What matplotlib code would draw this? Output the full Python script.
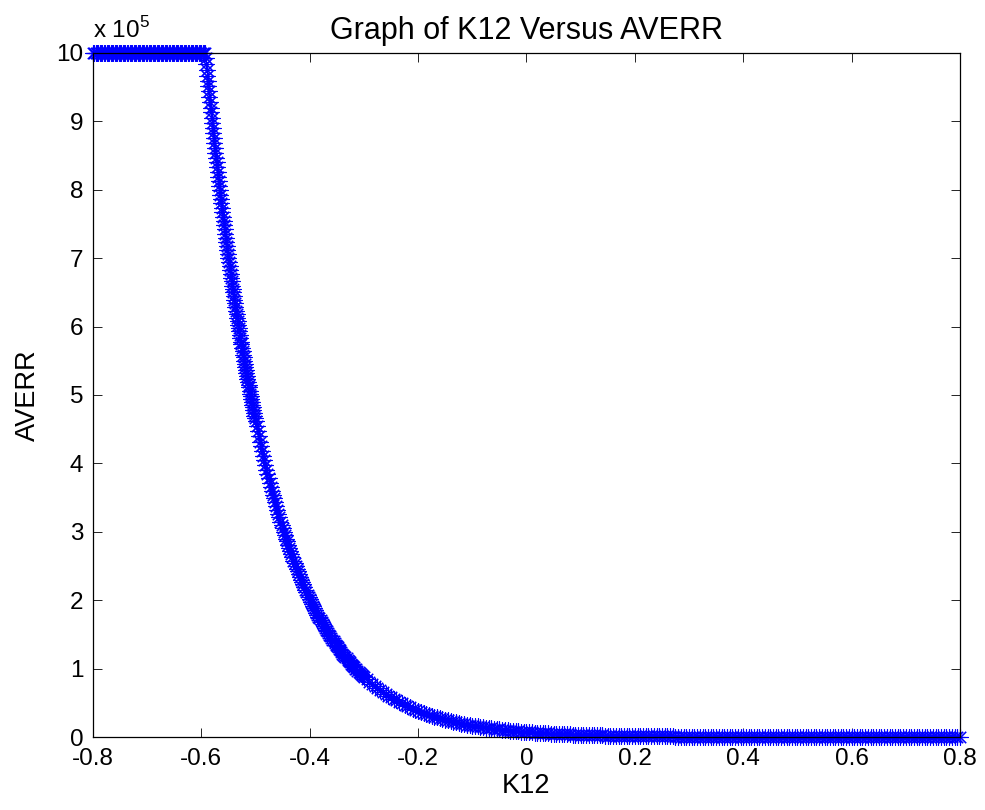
import numpy as np
import matplotlib.pyplot as plt

plt.rcParams['font.family'] = ['Liberation Sans', 'DejaVu Sans']
plt.rcParams['mathtext.fontset'] = 'custom'
plt.rcParams['mathtext.rm'] = 'Liberation Sans'

# AVERR is capped at 1e6 on the left; values below are in units of 1e5
cap_value = 10.0

# K12 = -0.593 ... -0.500 (step 0.001)
averr_steep = [10.00, 9.92, 9.84, 9.75, 9.67, 9.59, 9.51, 9.44, 9.36, 9.28,
               9.20, 9.13, 9.05, 8.98, 8.90, 8.83, 8.76, 8.68, 8.61, 8.54,
               8.47, 8.40, 8.33, 8.26, 8.19, 8.13, 8.06, 7.99, 7.93, 7.86,
               7.80, 7.73, 7.67, 7.60, 7.54, 7.48, 7.42, 7.36, 7.30, 7.24,
               7.18, 7.12, 7.06, 7.00, 6.94, 6.88, 6.83, 6.77, 6.71, 6.66,
               6.60, 6.55, 6.50, 6.44, 6.39, 6.34, 6.28, 6.23, 6.18, 6.13,
               6.08, 6.03, 5.98, 5.93, 5.88, 5.83, 5.78, 5.74, 5.69, 5.64,
               5.59, 5.55, 5.50, 5.46, 5.41, 5.37, 5.32, 5.28, 5.23, 5.19,
               5.15, 5.11, 5.06, 5.02, 4.98, 4.94, 4.90, 4.86, 4.82, 4.78,
               4.74, 4.70, 4.66, 4.62]

# K12 = -0.498 ... -0.300 (step 0.002)
averr_mid = [4.55, 4.47, 4.40, 4.32, 4.25, 4.18, 4.11, 4.05, 3.98, 3.91,
             3.85, 3.79, 3.72, 3.66, 3.60, 3.54, 3.49, 3.43, 3.37, 3.32,
             3.26, 3.21, 3.15, 3.10, 3.05, 3.00, 2.95, 2.90, 2.86, 2.81,
             2.76, 2.72, 2.67, 2.63, 2.58, 2.54, 2.50, 2.46, 2.42, 2.38,
             2.34, 2.30, 2.26, 2.23, 2.19, 2.15, 2.12, 2.08, 2.05, 2.02,
             1.98, 1.95, 1.92, 1.89, 1.85, 1.82, 1.79, 1.76, 1.74, 1.71,
             1.68, 1.65, 1.62, 1.60, 1.57, 1.55, 1.52, 1.49, 1.47, 1.45,
             1.42, 1.40, 1.38, 1.35, 1.33, 1.31, 1.29, 1.27, 1.25, 1.22,
             1.20, 1.18, 1.17, 1.15, 1.13, 1.11, 1.09, 1.07, 1.05, 1.04,
             1.02, 1.00, 0.99, 0.97, 0.95, 0.94, 0.92, 0.91, 0.89, 0.88]

# K12 = -0.295 ... 0.000 (step 0.005)
averr_low = [0.843, 0.809, 0.776, 0.744, 0.714, 0.685, 0.657, 0.631, 0.605, 0.580,
             0.557, 0.534, 0.512, 0.492, 0.472, 0.452, 0.434, 0.416, 0.399, 0.383,
             0.368, 0.353, 0.338, 0.325, 0.311, 0.299, 0.287, 0.275, 0.264, 0.253,
             0.243, 0.233, 0.223, 0.214, 0.206, 0.197, 0.189, 0.182, 0.174, 0.167,
             0.160, 0.154, 0.148, 0.142, 0.136, 0.130, 0.125, 0.120, 0.115, 0.110,
             0.106, 0.102, 0.097, 0.093, 0.090, 0.086, 0.083, 0.079, 0.076, 0.073]

# K12 = 0.005 ... 0.800 (step 0.005)
averr_tail = [0.070, 0.067, 0.064, 0.062, 0.059, 0.057, 0.055, 0.052, 0.050, 0.048,
              0.046, 0.044, 0.043, 0.041, 0.039, 0.038, 0.036, 0.035, 0.033, 0.032,
              0.031, 0.029, 0.028, 0.027, 0.026, 0.025, 0.024, 0.023, 0.022, 0.021,
              0.020, 0.019, 0.019, 0.018, 0.017, 0.016, 0.016, 0.015, 0.014, 0.014,
              0.013, 0.013, 0.012, 0.012, 0.011, 0.011, 0.010, 0.010, 0.009, 0.009,
              0.009, 0.008, 0.008, 0.008, 0.007, 0.007, 0.007, 0.006, 0.006, 0.006,
              0.006, 0.005, 0.005, 0.005, 0.005, 0.005, 0.004, 0.004, 0.004, 0.004,
              0.004, 0.004, 0.003, 0.003, 0.003, 0.003, 0.003, 0.003, 0.003, 0.003,
              0.002, 0.002, 0.002, 0.002, 0.002, 0.002, 0.002, 0.002, 0.002, 0.002,
              0.002, 0.002, 0.002, 0.002, 0.002, 0.002, 0.002, 0.002, 0.002, 0.002,
              0.001, 0.001, 0.001, 0.001, 0.001, 0.001, 0.001, 0.001, 0.001, 0.001,
              0.001, 0.001, 0.001, 0.001, 0.001, 0.001, 0.001, 0.001, 0.001, 0.001,
              0.001, 0.001, 0.001, 0.001, 0.001, 0.001, 0.001, 0.001, 0.001, 0.001,
              0.0, 0.0, 0.0, 0.0, 0.0, 0.0, 0.0, 0.0, 0.0, 0.0,
              0.0, 0.0, 0.0, 0.0, 0.0, 0.0, 0.0, 0.0, 0.0, 0.0,
              0.0, 0.0, 0.0, 0.0, 0.0, 0.0, 0.0, 0.0, 0.0, 0.0]

x_ticks = [-0.8, -0.6, -0.4, -0.2, 0, 0.2, 0.4, 0.6, 0.8]
x_ticklabels = ['-0.8', '-0.6', '-0.4', '-0.2', '0', '0.2', '0.4', '0.6', '0.8']
y_ticks = [0, 1, 2, 3, 4, 5, 6, 7, 8, 9, 10]

k_cap = np.arange(-0.8, -0.5935, 0.0025)
k12 = np.concatenate([
    k_cap,
    np.linspace(-0.593, -0.500, len(averr_steep)),
    np.linspace(-0.498, -0.300, len(averr_mid)),
    np.linspace(-0.295, 0.0, len(averr_low)),
    np.linspace(0.005, 0.80, len(averr_tail)),
])
averr = np.concatenate([
    np.full(len(k_cap), cap_value),
    averr_steep, averr_mid, averr_low, averr_tail,
])

fig = plt.figure(figsize=(9.85, 8.10), dpi=100)
ax = fig.add_axes([0.0944, 0.0901, 0.8802, 0.8445])

ax.plot(k12, averr, linestyle='none', marker=(8, 2, 0), markersize=11.5,
        markeredgewidth=0.8, color='blue', clip_on=False)

ax.set_xlim(-0.8, 0.8)
ax.set_ylim(0, 10)
ax.set_xticks(x_ticks)
ax.set_xticklabels(x_ticklabels)
ax.set_yticks(y_ticks)

ax.tick_params(direction='in', length=6.3, width=0.6, top=True, right=True,
               labelsize=17.5, colors='black')
ax.tick_params(axis='x', pad=8)
ax.tick_params(axis='y', pad=7)
for sp in ax.spines.values():
    sp.set_linewidth(0.9)

ax.set_xlabel('K12', fontsize=19.5, labelpad=2)
ax.set_ylabel('AVERR', fontsize=19.5, labelpad=11)
ax.set_title('Graph of K12 Versus AVERR', fontsize=22, pad=10)

ax.text(0.0, 1.022, r'x 10$^{\mathregular{5}}$', transform=ax.transAxes,
        fontsize=17.5, ha='left', va='baseline')

fig.savefig('out.png', dpi=100)
